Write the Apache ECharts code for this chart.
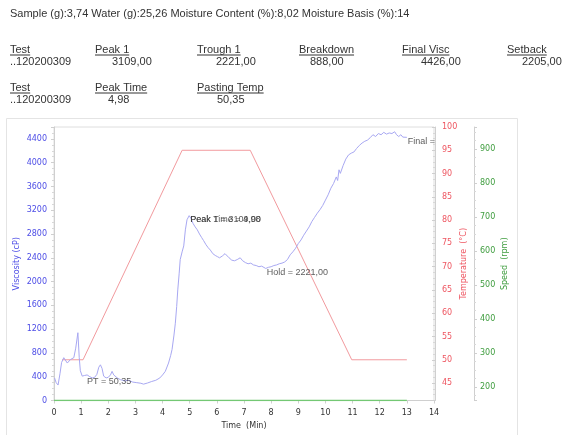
<!DOCTYPE html>
<html>
<head>
<meta charset="utf-8">
<script src="https://cdn.jsdelivr.net/npm/echarts@6/dist/echarts.min.js"></script>
<style>html,body{margin:0;padding:0;background:#fff;}#chart{width:568px;height:435px;}</style>
</head>
<body>
<div id="chart"></div>
<script>
// ---------- data ----------
const infoLine = 'Sample (g):3,74 Water (g):25,26 Moisture Content (%):8,02 Moisture Basis (%):14';
const headerRow1 = ['Test', 'Peak 1', 'Trough 1', 'Breakdown', 'Final Visc', 'Setback'];
const valueRow1 = ['..120200309', '3109,00', '2221,00', '888,00', '4426,00', '2205,00'];
const headerRow2 = ['Test', 'Peak Time', 'Pasting Temp'];
const valueRow2 = ['..120200309', '4,98', '50,35'];

const viscTime = [0.02,0.08,0.15,0.22,0.28,0.36,0.42,0.49,0.55,0.61,0.67,0.73,0.80,0.88,0.93,0.97,1.04,1.12,1.22,1.32,1.41,1.50,1.58,1.65,1.71,1.77,1.83,1.92,2.00,2.08,2.14,2.20,2.33,2.45,2.60,2.75,2.90,3.05,3.20,3.30,3.45,3.60,3.75,3.90,4.00,4.10,4.22,4.30,4.35,4.42,4.47,4.52,4.56,4.61,4.65,4.72,4.78,4.84,4.90,4.98,5.05,5.12,5.20,5.28,5.36,5.44,5.51,5.60,5.68,5.76,5.85,5.94,6.02,6.10,6.20,6.30,6.37,6.45,6.55,6.65,6.75,6.86,6.95,7.05,7.15,7.25,7.35,7.45,7.55,7.65,7.72,7.80,7.90,8.00,8.10,8.20,8.30,8.40,8.50,8.60,8.70,8.80,8.90,9.00,9.10,9.20,9.30,9.40,9.50,9.60,9.70,9.80,9.90,10.00,10.10,10.20,10.30,10.40,10.45,10.50,10.55,10.65,10.75,10.85,10.95,11.05,11.15,11.25,11.35,11.45,11.55,11.65,11.75,11.85,11.95,12.05,12.15,12.25,12.35,12.45,12.55,12.62,12.70,12.78,12.85,12.92,13.00];
const viscosity = [380,300,260,450,640,720,700,630,650,690,660,720,880,1140,720,500,410,420,430,400,380,390,440,560,600,540,410,380,390,430,490,430,380,350,330,340,310,300,290,275,295,320,340,380,430,490,630,760,860,1100,1300,1580,1860,2130,2370,2500,2600,2870,3040,3109,3060,2980,2920,2870,2800,2740,2690,2620,2570,2530,2470,2440,2420,2400,2430,2470,2460,2400,2360,2350,2370,2400,2350,2320,2300,2310,2280,2270,2250,2260,2235,2221,2240,2250,2270,2280,2300,2310,2330,2370,2450,2500,2560,2640,2700,2780,2850,2920,3010,3080,3150,3210,3280,3370,3460,3570,3650,3760,3700,3880,3820,3950,4060,4130,4160,4180,4240,4290,4330,4360,4380,4420,4470,4440,4490,4470,4510,4480,4500,4490,4520,4470,4440,4470,4430,4420,4426];

const tempTime = [0.30, 1.07, 4.72, 7.23, 10.97, 13.00];
const temperature = [50, 50, 95, 95, 50, 50];

const speedTime = [0, 13.0];
const speed = [160, 160];

const annotTime = [1.18, 4.98, 4.98, 7.80, 13.00];
const annotVisc = [390, 3109, 3109, 2221, 4426];
const annotText = ['PT = 50,35', 'Peak 1 = 3109,00', 'Peak Time = 4,98', 'Hold = 2221,00', 'Final = 4426,00'];

const xTicks = [0, 14, 1];
const viscAxis = [0, 4600, 400];
const tempAxis = [41.25, 100, 5];
const speedAxis = [160, 964, 100];

// ---------- chart ----------
const zip = (a, b) => a.map((v, i) => [v, b[i]]);
const FONT_AX = 'DejaVu Sans';
const FONT_TX = 'Liberation Sans';
const BLUE = '#4d4de6', RED = '#ee5560', GREEN = '#3f9d3f';

const measure = (() => {
  const c = document.createElement('canvas').getContext('2d');
  c.font = '11px "' + FONT_TX + '"';
  return t => c.measureText(t).width;
})();

const col1X = [10, 95, 197, 299, 402, 507];
const val1X = [10, 112, 216, 310, 421, 522];
const col2X = [10, 95, 197];
const val2X = [10, 108, 217];
const rowY = [14, 50, 62, 88, 100];

const graphic = [];
const txt = (t, x, y) => graphic.push({type: 'text', silent: true, style: {text: t, x: x, y: y, font: '11px "' + FONT_TX + '"', fill: '#333', verticalAlign: 'middle', align: 'left'}});
const ul = (t, x, y) => { txt(t, x, y); graphic.push({type: 'line', silent: true, shape: {x1: x, y1: y + 5, x2: x + measure(t), y2: y + 5}, style: {stroke: '#333', lineWidth: 1}}); };
txt(infoLine, 10, rowY[0]);
headerRow1.forEach((t, i) => ul(t, col1X[i], rowY[1]));
valueRow1.forEach((t, i) => txt(t, val1X[i], rowY[2]));
headerRow2.forEach((t, i) => ul(t, col2X[i], rowY[3]));
valueRow2.forEach((t, i) => txt(t, val2X[i], rowY[4]));
graphic.push({type: 'rect', silent: true, z: -10, shape: {x: 6.5, y: 118.5, width: 511, height: 330}, style: {fill: 'none', stroke: '#e4e4e4', lineWidth: 1}});

const axisLineGray = {show: true, lineStyle: {color: '#cfcfcf', width: 1}};
const chart = echarts.init(document.getElementById('chart'), null, {renderer: 'canvas'});
chart.setOption({
  animation: false,
  backgroundColor: '#fff',
  graphic: graphic,
  grid: {left: 54, right: 134, top: 127, bottom: 34.5, show: true, borderColor: '#dedede', borderWidth: 1, containLabel: false},
  xAxis: {
    type: 'value', min: xTicks[0], max: xTicks[1], interval: xTicks[2],
    name: 'Time  (Min)', nameLocation: 'middle', nameGap: 21, nameMoveOverlap: false,
    nameTextStyle: {color: '#333', fontSize: 8, fontFamily: FONT_AX, verticalAlign: 'top'},
    axisLine: axisLineGray, axisTick: {show: true, length: 3, lineStyle: {color: '#cfcfcf'}},
    axisLabel: {color: '#333', fontSize: 8, fontFamily: FONT_AX, margin: 8},
    splitLine: {show: false}
  },
  yAxis: [
    {
      type: 'value', min: viscAxis[0], max: viscAxis[1], interval: viscAxis[2], position: 'left',
      name: 'Viscosity (cP)', nameLocation: 'middle', nameRotate: 90, nameGap: 33, nameMoveOverlap: false,
      nameTextStyle: {color: BLUE, fontSize: 8, fontFamily: FONT_AX},
      axisLine: axisLineGray, axisTick: {show: true, length: 3, lineStyle: {color: '#cfcfcf'}},
      minorTick: {show: true, splitNumber: 4, length: 2, lineStyle: {color: '#d8d8d8'}},
      axisLabel: {color: BLUE, fontSize: 8, fontFamily: FONT_AX, margin: 7, showMaxLabel: false,
        formatter: v => (v <= 4400 ? String(v) : '')},
      splitLine: {show: false}
    },
    {
      type: 'value', min: tempAxis[0], max: tempAxis[1], splitNumber: 12, position: 'right', offset: 1,
      name: 'Temperature  (°C)', nameLocation: 'middle', nameRotate: 90, nameGap: 25, nameMoveOverlap: false,
      nameTextStyle: {color: RED, fontSize: 8, fontFamily: FONT_AX},
      axisLine: axisLineGray, axisTick: {show: true, inside: true, length: 3, lineStyle: {color: '#cfcfcf'}},
      minorTick: {show: true, splitNumber: 4, length: 2, lineStyle: {color: '#d8d8d8'}},
      axisLabel: {color: RED, fontSize: 8, fontFamily: FONT_AX, margin: 7,
        formatter: v => (Math.abs(v % tempAxis[2]) < 1e-6 ? String(v) : '')},
      splitLine: {show: false}
    },
    {
      type: 'value', min: speedAxis[0], max: speedAxis[1], splitNumber: 8, position: 'right', offset: 40,
      name: 'Speed  (rpm)', nameLocation: 'middle', nameRotate: 90, nameGap: 27, nameMoveOverlap: false,
      nameTextStyle: {color: GREEN, fontSize: 8, fontFamily: FONT_AX},
      axisLine: axisLineGray, axisTick: {show: true, length: 3, lineStyle: {color: '#cfcfcf'}},
      minorTick: {show: true, splitNumber: 4, length: 2, lineStyle: {color: '#d8d8d8'}},
      axisLabel: {color: GREEN, fontSize: 8, fontFamily: FONT_AX, margin: 6,
        formatter: v => (Math.abs(v % speedAxis[2]) < 1e-6 ? String(v) : '')},
      splitLine: {show: false}
    }
  ],
  series: [
    {name: 'Speed', type: 'line', yAxisIndex: 2, data: zip(speedTime, speed), showSymbol: false,
      lineStyle: {color: '#74c874', width: 1.5}, z: 1},
    {name: 'Temperature', type: 'line', yAxisIndex: 1, data: zip(tempTime, temperature), showSymbol: false,
      lineStyle: {color: '#f29a9e', width: 1}, z: 2},
    {name: 'Viscosity', type: 'line', yAxisIndex: 0, data: zip(viscTime, viscosity), showSymbol: false,
      lineStyle: {color: '#a8a8f2', width: 1}, z: 3},
    {name: 'Labels', type: 'scatter', yAxisIndex: 0, symbolSize: 1, itemStyle: {color: 'rgba(0,0,0,0)'}, z: 4,
      data: annotTime.map((t, i) => ({value: [t, annotVisc[i]], name: annotText[i],
        label: i === 4 ? {width: 29, overflow: 'truncate', ellipsis: ''} : {}})),
      label: {show: true, position: [1.5, 0], align: 'left', verticalAlign: 'top',
        color: '#333', fontSize: 9, fontFamily: FONT_TX,
        formatter: p => p.name}
    }
  ]
});
</script>
</body>
</html>
